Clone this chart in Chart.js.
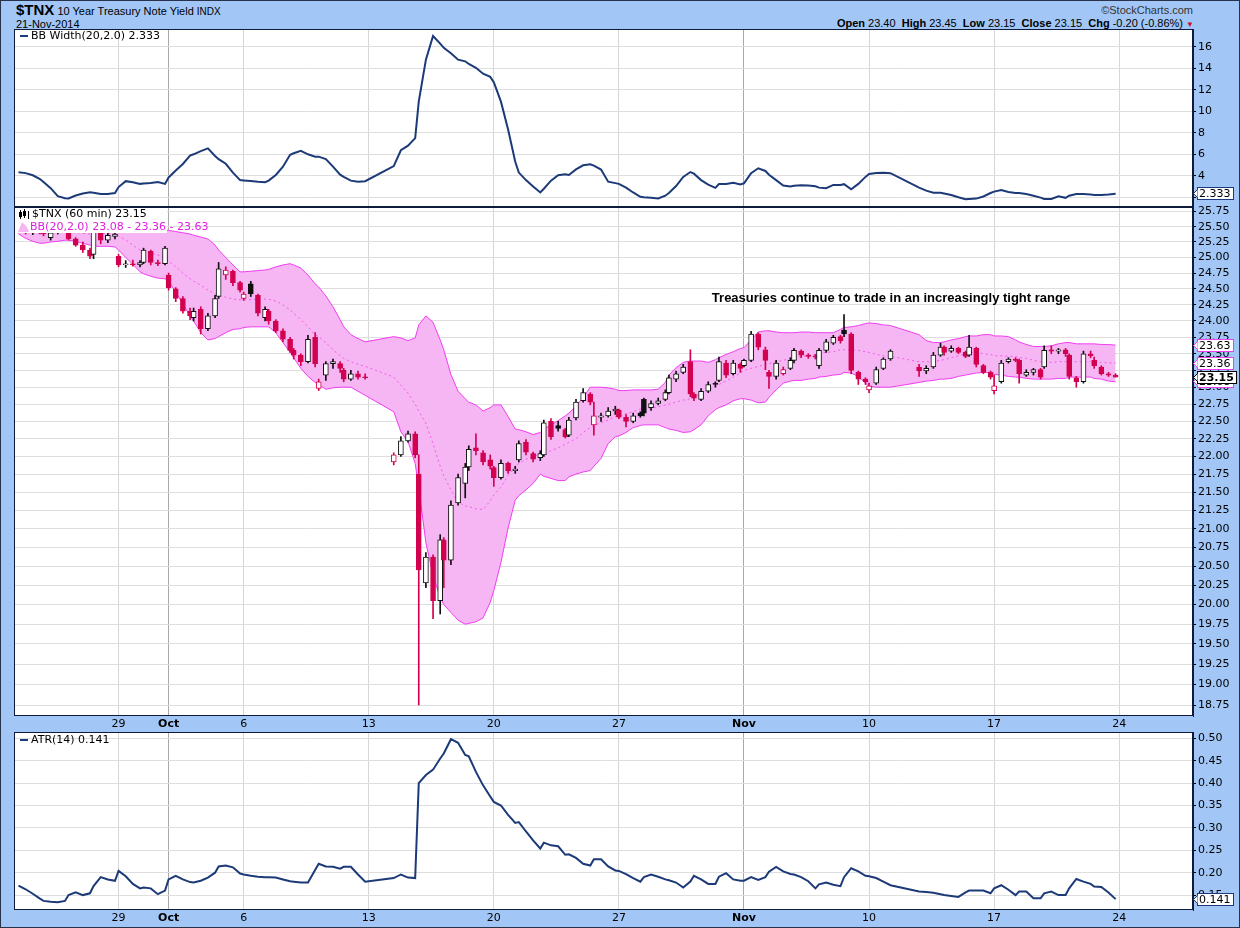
<!DOCTYPE html>
<html>
<head>
<meta charset="utf-8">
<title>$TNX 10 Year Treasury Note Yield</title>
<script src="https://cdn.jsdelivr.net/npm/chart.js@4.4.1/dist/chart.umd.min.js"></script>
<style>
  html, body { margin: 0; padding: 0; }
  body { width: 1240px; height: 928px; position: relative; overflow: hidden; background: #a2c7f6; font-family: "Liberation Sans", Arial, sans-serif; color: #000; }
  #outline { position: absolute; left: 0; top: 0; width: 1240px; height: 928px; box-sizing: border-box; border: 1px solid #28324a; pointer-events: none; z-index: 5; }
  .txt { position: absolute; white-space: nowrap; font-size: 11px; line-height: 13px; }
  canvas { position: absolute; }
</style>
</head>
<body>
<div id="outline"></div>
<div class="txt" style="left:16px;top:2px;line-height:16px;"><span style="font-size:15px;font-weight:bold;">$TNX</span> 10 Year Treasury Note Yield <span style="font-size:10px;">INDX</span></div>
<div class="txt" style="left:16px;top:18px;">21-Nov-2014</div>
<div class="txt" style="right:47px;top:4px;color:#333;">&copy;StockCharts.com</div>
<div class="txt" style="right:57px;top:17px;"><b>Open</b> 23.40&nbsp; <b>High</b> 23.45&nbsp; <b>Low</b> 23.15&nbsp; <b>Close</b> 23.15&nbsp; <b>Chg</b> -0.20 (-0.86%)</div>
<div class="txt" style="left:1186px;top:18px;font-size:8px;color:#c8102e;">&#9660;</div>
<div class="txt" style="left:591px;top:290px;width:600px;text-align:center;font-size:13px;line-height:15px;font-weight:bold;z-index:3;">Treasuries continue to trade in an increasingly tight range</div>

<canvas id="bbwChart" width="1226" height="178" style="left:14px;top:29px;"></canvas>
<canvas id="priceChart" width="1226" height="532" style="left:14px;top:200px;"></canvas>
<canvas id="atrChart" width="1226" height="196" style="left:14px;top:728px;"></canvas>

<script>
// trading sessions, 0 = Mon 29 Sep (13 Oct and 11 Nov had no bars)
const tradingDays = [-4, -3, -2, -1, 0, 1, 2, 3, 4, 5, 6, 7, 8, 9,
  11, 12, 13, 14, 15, 16, 17, 18, 19, 20, 21, 22, 23, 24, 25, 26, 27, 28, 29, 30,
  32, 33, 34, 35, 36, 37, 38, 39];
const barsPerDay = 4;

const dateTickValues = [0, 2, 5, 10, 15, 20, 25, 30, 35, 40];
const dateTickLabels = ['29', 'Oct', '6', '13', '20', '27', 'Nov', '10', '17', '24'];
const monthTicks = [2, 25];

const priceTicks = [18.75, 19.00, 19.25, 19.50, 19.75, 20.00, 20.25, 20.50, 20.75, 21.00,
  21.25, 21.50, 21.75, 22.00, 22.25, 22.50, 22.75, 23.00, 23.25, 23.50, 23.75, 24.00,
  24.25, 24.50, 24.75, 25.00, 25.25, 25.50, 25.75];
const bbwTicks = [2, 4, 6, 8, 10, 12, 14, 16];
const atrTicks = [0.15, 0.20, 0.25, 0.30, 0.35, 0.40, 0.45, 0.50];

// 4 bars per session, one row per session
const opens = [
  25.45, 25.42, 25.40, 25.43,  25.40, 25.32, 25.40, 25.45,  25.42, 25.30, 25.20, 25.12,  25.05, 25.48, 25.28, 25.34,
  25.02, 24.88, 24.90, 24.88,  24.92, 25.10, 24.92, 24.90,  24.72, 24.50, 24.35, 24.15,  24.05, 24.18, 23.88, 24.08,
  24.38, 24.72, 24.78, 24.60,  24.35, 24.58, 24.40, 24.05,  24.15, 24.00, 23.85, 23.72,  23.55, 23.48, 23.38, 23.75,
  22.98, 23.18, 23.35, 23.35,  23.25, 23.12, 23.20, 23.15,
  21.92, 22.02, 22.22, 22.32,  21.75, 20.28, 20.62, 20.05,  20.85, 20.58, 21.35, 21.62,  21.85, 22.12, 22.05, 21.95,
  21.84, 21.70, 21.90, 21.80,  21.95, 22.20, 22.04, 21.98,  22.02, 22.50, 22.44, 22.38,  22.30, 22.55, 22.80, 22.90,
  22.45, 22.56, 22.58, 22.65,  22.66, 22.56, 22.50, 22.62,  22.82, 22.70, 22.76, 22.82,  22.92, 23.12, 23.22, 23.38,
  22.90, 22.82, 22.94, 23.06,  23.10, 23.36, 23.20, 23.34,  23.32, 23.40, 23.80, 23.56,  23.22, 23.16, 23.20, 23.28,
  23.40, 23.54, 23.48, 23.47,  23.32, 23.55, 23.66, 23.76,  23.86, 23.80, 23.22, 23.12,  22.96, 23.06, 23.28, 23.42,
  23.30, 23.24, 23.30, 23.48,  23.60, 23.54, 23.58, 23.52,  23.48, 23.58, 23.32, 23.22,  22.95, 23.08, 23.38, 23.42,
  23.40, 23.18, 23.22, 23.26,  23.30, 23.56, 23.54, 23.56,  23.48, 23.14, 23.08, 23.50,  23.40, 23.30, 23.20, 23.18
];
const highs = [
  25.50, 25.46, 25.45, 25.47,  25.44, 25.42, 25.48, 25.50,  25.45, 25.32, 25.25, 25.15,  25.58, 25.50, 25.40, 25.42,
  25.05, 24.95, 24.96, 24.95,  25.15, 25.12, 24.96, 25.18,  24.75, 24.52, 24.38, 24.20,  24.20, 24.22, 24.12, 24.40,
  24.92, 24.85, 24.80, 24.62,  24.45, 24.62, 24.42, 24.22,  24.18, 24.02, 23.88, 23.75,  23.58, 23.50, 23.78, 23.82,
  23.12, 23.38, 23.42, 23.38,  23.28, 23.25, 23.24, 23.20,
  22.05, 22.28, 22.36, 22.35,  22.02, 20.68, 20.65, 20.92,  20.88, 21.38, 21.75, 21.90,  22.15, 22.32, 22.08, 22.02,
  21.86, 21.95, 21.92, 21.86,  22.22, 22.24, 22.06, 22.08,  22.52, 22.54, 22.50, 22.40,  22.56, 22.82, 22.98, 22.92,
  22.78, 22.62, 22.70, 22.72,  22.68, 22.60, 22.62, 22.64,  22.84, 22.80, 22.84, 22.96,  23.18, 23.24, 23.34, 23.56,
  22.92, 22.98, 23.08, 23.08,  23.45, 23.40, 23.40, 23.36,  23.42, 23.84, 23.82, 23.60,  23.25, 23.40, 23.30, 23.44,
  23.58, 23.56, 23.50, 23.49,  23.58, 23.72, 23.78, 23.78,  24.10, 23.82, 23.24, 23.14,  23.06, 23.30, 23.44, 23.56,
  23.34, 23.32, 23.52, 23.66,  23.62, 23.62, 23.60, 23.54,  23.78, 23.60, 23.34, 23.24,  23.18, 23.40, 23.44, 23.44,
  23.42, 23.26, 23.28, 23.28,  23.62, 23.62, 23.58, 23.58,  23.50, 23.16, 23.54, 23.54,  23.45, 23.32, 23.22, 23.20
];
const lows = [
  25.40, 25.38, 25.37, 25.38,  25.35, 25.28, 25.38, 25.40,  25.28, 25.18, 25.08, 24.98,  24.98, 25.22, 25.24, 25.30,
  24.85, 24.84, 24.86, 24.85,  24.90, 24.88, 24.87, 24.88,  24.48, 24.30, 24.12, 24.02,  24.00, 23.80, 23.85, 24.05,
  24.35, 24.65, 24.55, 24.45,  24.32, 24.38, 24.08, 24.00,  23.95, 23.82, 23.68, 23.52,  23.42, 23.32, 23.36, 23.30,
  22.95, 23.10, 23.28, 23.22,  23.08, 23.10, 23.12, 23.12,
  21.88, 22.00, 22.20, 21.98,  18.75, 20.22, 19.82, 19.88,  20.22, 20.52, 21.32, 21.42,  21.80, 22.02, 21.88, 21.82,
  21.58, 21.68, 21.76, 21.76,  21.92, 22.02, 21.92, 21.94,  22.00, 22.24, 22.36, 22.26,  22.28, 22.52, 22.78, 22.74,
  22.30, 22.50, 22.56, 22.60,  22.54, 22.42, 22.48, 22.56,  22.58, 22.66, 22.74, 22.80,  22.90, 23.08, 23.20, 22.86,
  22.80, 22.80, 22.92, 23.00,  23.08, 23.14, 23.18, 23.22,  23.30, 23.38, 23.56, 23.26,  22.98, 23.12, 23.18, 23.26,
  23.36, 23.44, 23.43, 23.42,  23.28, 23.52, 23.64, 23.66,  23.76, 23.20, 23.04, 23.04,  22.92, 23.04, 23.26, 23.40,
  23.16, 23.20, 23.28, 23.46,  23.48, 23.52, 23.50, 23.44,  23.46, 23.30, 23.20, 23.12,  22.90, 23.06, 23.36, 23.38,
  23.06, 23.16, 23.18, 23.12,  23.28, 23.50, 23.50, 23.46,  23.12, 23.00, 23.06, 23.44,  23.28, 23.18, 23.16, 23.15
];
const closes = [
  25.42, 25.40, 25.43, 25.40,  25.38, 25.40, 25.45, 25.42,  25.30, 25.20, 25.12, 25.02,  25.50, 25.28, 25.36, 25.38,
  24.88, 24.90, 24.88, 24.92,  25.12, 24.92, 24.90, 25.15,  24.52, 24.35, 24.15, 24.08,  24.15, 23.88, 24.08, 24.35,
  24.82, 24.80, 24.60, 24.48,  24.42, 24.42, 24.12, 24.18,  24.00, 23.85, 23.72, 23.55,  23.48, 23.38, 23.72, 23.35,
  23.08, 23.35, 23.38, 23.28,  23.12, 23.20, 23.15, 23.14,
  22.02, 22.22, 22.32, 22.02,  20.45, 20.62, 20.05, 20.85,  20.58, 21.32, 21.70, 21.85,  22.10, 22.08, 21.92, 21.86,
  21.70, 21.90, 21.80, 21.82,  22.18, 22.06, 21.96, 22.04,  22.48, 22.28, 22.40, 22.28,  22.52, 22.78, 22.92, 22.78,
  22.58, 22.58, 22.65, 22.68,  22.56, 22.50, 22.58, 22.58,  22.62, 22.76, 22.80, 22.92,  23.14, 23.20, 23.30, 22.90,
  22.84, 22.94, 23.04, 23.04,  23.38, 23.18, 23.36, 23.28,  23.40, 23.80, 23.60, 23.40,  23.16, 23.36, 23.26, 23.40,
  23.55, 23.48, 23.46, 23.45,  23.55, 23.68, 23.75, 23.70,  23.80, 23.25, 23.12, 23.08,  23.02, 23.26, 23.42, 23.54,
  23.24, 23.28, 23.48, 23.60,  23.52, 23.58, 23.52, 23.46,  23.60, 23.34, 23.22, 23.15,  23.02, 23.36, 23.42, 23.40,
  23.20, 23.22, 23.26, 23.15,  23.55, 23.54, 23.56, 23.50,  23.16, 23.08, 23.50, 23.47,  23.32, 23.20, 23.18, 23.15
];

// Bollinger Bands (20,2.0)
const bbUpper = [
  25.52, 25.53, 25.54, 25.54,  25.55, 25.55, 25.56, 25.56,  25.56, 25.56, 25.55, 25.55,  25.60, 25.60, 25.60, 25.60,
  25.58, 25.56, 25.52, 25.50,  25.48, 25.47, 25.46, 25.45,  25.44, 25.42, 25.40, 25.38,  25.36, 25.33, 25.30, 25.20,
  25.12, 25.00, 24.88, 24.77,  24.77, 24.78, 24.79, 24.80,  24.81, 24.85, 24.88, 24.90,  24.88, 24.83, 24.72, 24.58,
  24.53, 24.39, 24.22, 24.02,  23.91, 23.79, 23.73, 23.68,
  23.76, 23.74, 23.70, 23.74,  23.94, 24.08, 23.98, 23.71,  23.56, 23.19, 22.94, 22.83,  22.78, 22.74, 22.65, 22.70,
  22.74, 22.74, 22.57, 22.39,  22.38, 22.35, 22.31, 22.34,  22.39, 22.45, 22.51, 22.58,  22.62, 22.72, 22.85, 23.00,
  23.00, 23.00, 22.99, 22.97,  22.95, 22.95, 22.96, 22.96,  22.96, 22.96, 22.97, 23.07,  23.18, 23.29, 23.37, 23.39,
  23.39, 23.39, 23.37, 23.41,  23.44, 23.49, 23.53, 23.58,  23.59, 23.71, 23.83, 23.85,  23.85, 23.83, 23.82, 23.82,
  23.82, 23.83, 23.83, 23.82,  23.82, 23.82, 23.82, 23.87,  23.90, 23.91, 23.93, 23.96,  23.97, 23.96, 23.94, 23.93,
  23.79, 23.70, 23.67, 23.67,  23.68, 23.71, 23.73, 23.76,  23.77, 23.77, 23.79, 23.79,  23.77, 23.77, 23.76, 23.71,
  23.68, 23.64, 23.61, 23.61,  23.61, 23.62, 23.65, 23.67,  23.67, 23.65, 23.65, 23.65,  23.65, 23.64, 23.64, 23.63
];
const bbMiddle = [
  25.45, 25.42, 25.40, 25.39,  25.39, 25.40, 25.41, 25.42,  25.42, 25.41, 25.39, 25.38,  25.39, 25.39, 25.39, 25.38,
  25.35, 25.28, 25.20, 25.12,  25.10, 25.07, 25.04, 25.00,  24.94, 24.85, 24.75, 24.66,  24.62, 24.56, 24.48, 24.42,
  24.40, 24.37, 24.34, 24.33,  24.33, 24.33, 24.34, 24.34,  24.34, 24.31, 24.25, 24.17,  24.12, 24.02, 23.91, 23.79,
  23.76, 23.67, 23.56, 23.47,  23.43, 23.38, 23.34, 23.31,
  23.15, 23.03, 22.91, 22.75,  22.65, 22.47, 22.18, 21.86,  21.73, 21.53, 21.36, 21.31,  21.30, 21.27, 21.26, 21.38,
  21.46, 21.57, 21.73, 21.86,  21.90, 21.96, 22.00, 22.03,  22.03, 22.08, 22.12, 22.17,  22.20, 22.25, 22.34, 22.41,
  22.44, 22.48, 22.52, 22.57,  22.58, 22.61, 22.64, 22.68,  22.68, 22.70, 22.71, 22.74,  22.75, 22.78, 22.81, 22.83,
  22.85, 22.91, 22.96, 23.01,  23.04, 23.09, 23.15, 23.21,  23.25, 23.28, 23.31, 23.34,  23.35, 23.38, 23.40, 23.43,
  23.44, 23.46, 23.47, 23.49,  23.50, 23.52, 23.53, 23.56,  23.56, 23.56, 23.55, 23.53,  23.52, 23.49, 23.47, 23.46,
  23.38, 23.38, 23.38, 23.40,  23.41, 23.44, 23.47, 23.50,  23.52, 23.52, 23.50, 23.49,  23.47, 23.47, 23.46, 23.46,
  23.44, 23.43, 23.40, 23.38,  23.37, 23.37, 23.38, 23.38,  23.38, 23.38, 23.38, 23.38,  23.37, 23.37, 23.36, 23.36
];
const bbLower = [
  25.38, 25.31, 25.26, 25.23,  25.23, 25.25, 25.26, 25.28,  25.28, 25.26, 25.23, 25.20,  25.18, 25.18, 25.18, 25.17,
  25.12, 25.00, 24.89, 24.77,  24.74, 24.70, 24.67, 24.66,  24.62, 24.45, 24.26, 24.08,  24.00, 23.82, 23.71, 23.73,
  23.76, 23.82, 23.87, 23.88,  23.90, 23.91, 23.91, 23.91,  23.91, 23.82, 23.67, 23.52,  23.44, 23.28, 23.16, 23.07,
  23.04, 22.97, 22.99, 23.00,  23.00, 23.00, 22.94, 22.88,
  22.64, 22.35, 22.21, 21.90,  21.56, 20.81, 20.38, 20.09,  20.00, 19.90, 19.80, 19.75,  19.76, 19.78, 19.83, 20.03,
  20.18, 20.55, 21.01, 21.39,  21.45, 21.53, 21.62, 21.75,  21.72, 21.69, 21.66, 21.66,  21.71, 21.75, 21.78, 21.80,
  21.86, 21.97, 22.18, 22.28,  22.29, 22.34, 22.41, 22.44,  22.45, 22.45, 22.45, 22.41,  22.39, 22.37, 22.34, 22.35,
  22.38, 22.45, 22.58, 22.67,  22.70, 22.74, 22.80, 22.83,  22.83, 22.81, 22.77, 22.78,  22.85, 22.96, 23.06, 23.09,
  23.10, 23.10, 23.12, 23.13,  23.15, 23.16, 23.18, 23.19,  23.22, 23.21, 23.16, 23.06,  23.01, 23.00, 23.00, 23.00,
  23.07, 23.09, 23.10, 23.12,  23.12, 23.13, 23.16, 23.18,  23.19, 23.21, 23.22, 23.22,  23.19, 23.18, 23.16, 23.15,
  23.15, 23.13, 23.12, 23.12,  23.12, 23.12, 23.13, 23.13,  23.15, 23.15, 23.15, 23.15,  23.13, 23.12, 23.09, 23.08
];

// BB Width(20,2.0)
const bbWidth = [
  4.32, 4.25, 4.05, 3.70,  3.42, 2.85, 2.10, 1.92,  1.90, 2.17, 2.36, 2.46,  2.42, 2.31, 2.31, 2.40,
  2.95, 3.50, 3.40, 3.25,  3.28, 3.32, 3.42, 3.25,  3.85, 4.50, 5.10, 5.88,  6.00, 6.30, 6.55, 5.85,
  5.55, 5.12, 4.30, 3.60,  3.57, 3.52, 3.45, 3.40,  3.55, 4.08, 4.85, 5.95,  6.10, 6.32, 6.00, 5.78,
  5.78, 5.55, 4.85, 4.10,  3.90, 3.55, 3.44, 3.50,
  4.90, 6.38, 6.80, 7.50,  10.9, 14.8, 17.0, 16.3,  15.9, 15.4, 14.8, 14.65,  14.4, 14.05, 13.5, 13.2,
  12.7, 10.9, 8.30, 5.30,  4.30, 3.60, 3.00, 2.45,  2.80, 3.55, 4.05, 4.15,  4.08, 4.60, 4.98, 5.07,
  4.95, 4.58, 3.45, 3.32,  3.25, 2.90, 2.45, 2.05,  2.00, 1.95, 1.90, 2.15,  2.40, 3.05, 3.90, 4.35,
  4.20, 3.60, 3.18, 2.88,  3.24, 3.24, 3.35, 3.20,  3.30, 4.25, 4.70, 4.45,  4.10, 3.60, 3.10, 3.00,
  3.08, 3.13, 3.10, 3.03,  2.90, 2.84, 3.15, 3.15,  3.22, 2.75, 3.25, 3.90,  4.17, 4.25, 4.28, 4.24,
  2.90, 2.62, 2.43, 2.43,  2.36, 2.22, 2.00, 1.82,  1.84, 1.88, 2.08, 2.40,  2.53, 2.68, 2.50, 2.41,
  2.39, 2.30, 2.15, 1.97,  1.85, 1.85, 2.10, 1.95,  2.15, 2.31, 2.31, 2.25,  2.21, 2.21, 2.25, 2.333
];

// ATR(14)
const atr14 = [
  0.171, 0.163, 0.153, 0.142,  0.137, 0.135, 0.134, 0.137,  0.150, 0.156, 0.150, 0.154,  0.170, 0.190, 0.185, 0.182,
  0.204, 0.192, 0.175, 0.165,  0.167, 0.165, 0.152, 0.160,  0.185, 0.193, 0.185, 0.179,  0.178, 0.182, 0.189, 0.200,
  0.214, 0.216, 0.212, 0.198,  0.196, 0.193, 0.191, 0.190,  0.190, 0.189, 0.185, 0.181,  0.180, 0.178, 0.178, 0.206,
  0.220, 0.214, 0.213, 0.209,  0.213, 0.213, 0.196, 0.180,
  0.188, 0.196, 0.189, 0.188,  0.400, 0.418, 0.430, 0.455,  0.466, 0.498, 0.490, 0.463,  0.460, 0.425, 0.395, 0.370,
  0.358, 0.350, 0.329, 0.311,  0.313, 0.292, 0.272, 0.254,  0.267, 0.261, 0.259, 0.240,  0.241, 0.233, 0.220, 0.216,
  0.230, 0.230, 0.214, 0.205,  0.204, 0.197, 0.188, 0.180,  0.190, 0.196, 0.191, 0.185,  0.183, 0.178, 0.167, 0.180,
  0.193, 0.185, 0.175, 0.175,  0.191, 0.199, 0.185, 0.182,  0.182, 0.190, 0.184, 0.190,  0.202, 0.213, 0.203, 0.197,
  0.196, 0.190, 0.181, 0.165,  0.174, 0.178, 0.173, 0.170,  0.190, 0.210, 0.203, 0.193,  0.192, 0.188, 0.180, 0.172,
  0.158, 0.157, 0.155, 0.152,  0.150, 0.148, 0.146, 0.156,  0.160, 0.160, 0.160, 0.154,  0.165, 0.172, 0.162, 0.150,
  0.158, 0.158, 0.143, 0.143,  0.154, 0.158, 0.150, 0.150,  0.165, 0.186, 0.180, 0.175,  0.169, 0.168, 0.156, 0.141
];

const FONT = '"DejaVu Sans", Verdana, sans-serif';
const FRAME = '#0e1b3d';
const NAVY = '#1c3a78';
const RED = '#d3004f';
const BLACK = '#101010';
const MAGENTA = '#f03ef0';
const PINK = '#f6b5f3';
const X_MIN = -4.18, X_MAX = 42.95;

Chart.defaults.font.family = FONT;
Chart.defaults.font.size = 11;
Chart.defaults.color = '#000';
Chart.defaults.animation = false;

// bar positions inside each session
const xs = [];
tradingDays.forEach(d => {
  for (let k = 0; k < barsPerDay; k++) xs.push(d + k * 2 / 7);
});
const last = xs.length - 1;

const candleColor = closes.map((c, i) => (i === 0 || c >= closes[i - 1]) ? BLACK : RED);
const bodyFill = closes.map((c, i) => c >= opens[i] ? '#ffffff' : candleColor[i]);

const series = arr => xs.map((x, i) => ({ x, y: arr[i] }));

// shared plugins
const paper = {
  id: 'paper',
  beforeDraw(chart) {
    const a = chart.chartArea, ctx = chart.ctx;
    ctx.save();
    ctx.fillStyle = '#ffffff';
    ctx.fillRect(a.left, a.top, a.right - a.left, a.bottom - a.top);
    ctx.restore();
  }
};
const frame = {
  id: 'frame',
  afterDraw(chart) {
    const a = chart.chartArea, ctx = chart.ctx;
    ctx.save();
    ctx.strokeStyle = FRAME;
    ctx.lineWidth = 1;
    ctx.strokeRect(a.left + 0.5, a.top + 0.5, a.right - a.left - 1, a.bottom - a.top - 1);
    ctx.restore();
  }
};

function drawTag(ctx, x, y, text, border, bold) {
  ctx.save();
  ctx.font = (bold ? 'bold ' : '') + '11px ' + FONT;
  const w = Math.ceil(ctx.measureText(text).width) + 4;
  const h = 13;
  const top = Math.round(y - h / 2);
  ctx.fillStyle = '#ffffff';
  ctx.fillRect(x, top, w, h);
  ctx.strokeStyle = border;
  ctx.lineWidth = 1;
  ctx.strokeRect(x + 0.5, top + 0.5, w, h - 1);
  ctx.beginPath();
  ctx.moveTo(x + 0.5, top + 2.5);
  ctx.lineTo(x - 3.5, top + h / 2);
  ctx.lineTo(x + 0.5, top + h - 2.5);
  ctx.fill();
  ctx.stroke();
  ctx.fillStyle = '#000';
  ctx.textBaseline = 'middle';
  ctx.fillText(text, x + 2, top + h / 2 + 0.5);
  ctx.restore();
}

function dateAxis(height) {
  return {
    type: 'linear', min: X_MIN, max: X_MAX, offset: false, bounds: 'data',
    afterBuildTicks: s => { s.ticks = dateTickValues.map(v => ({ value: v })); },
    afterFit: s => { s.height = height; s.paddingLeft = 0; s.paddingRight = 0; },
    ticks: {
      display: height > 0, autoSkip: false, maxRotation: 0, padding: 2,
      callback: v => dateTickLabels[dateTickValues.indexOf(v)],
      font: ctx => ({ family: FONT, size: 11, weight: ctx.tick && monthTicks.includes(ctx.tick.value) ? 'bold' : 'normal' })
    },
    grid: {
      offset: false,
      drawTicks: false,
      color: ctx => ctx.tick && monthTicks.includes(ctx.tick.value) ? '#a9a9a9' : '#d6d6d6'
    },
    border: { display: false }
  };
}

function valueAxis(type, min, max, tickList, fmt) {
  return {
    type, position: 'right', min, max, bounds: 'data',
    afterBuildTicks: s => { s.ticks = tickList.map(v => ({ value: v })); },
    afterFit: s => { s.width = 47; s.paddingTop = 0; s.paddingBottom = 0; },
    ticks: { autoSkip: false, padding: 2, callback: fmt },
    grid: { offset: false, color: '#dedede', tickColor: '#000', tickLength: 3 },
    border: { display: true, color: FRAME }
  };
}

// ---- BB Width panel ----
new Chart(document.getElementById('bbwChart'), {
  type: 'line',
  data: {
    datasets: [{
      data: series(bbWidth), borderColor: NAVY, borderWidth: 2,
      pointRadius: 0, tension: 0, fill: false
    }]
  },
  options: {
    responsive: false, events: [],
    layout: { padding: 0 },
    plugins: { legend: { display: false }, tooltip: { enabled: false } },
    scales: {
      x: dateAxis(0),
      y: valueAxis('linear', 1.098, 17.656, bbwTicks, v => String(v))
    }
  },
  plugins: [paper, frame, {
    id: 'bbwText',
    afterDraw(chart) {
      const { ctx, chartArea: a } = chart;
      ctx.save();
      ctx.fillStyle = NAVY;
      ctx.fillRect(a.left + 6, a.top + 6, 8, 2);
      ctx.fillStyle = '#000';
      ctx.font = '11px ' + FONT;
      ctx.textBaseline = 'middle';
      ctx.fillText('BB Width(20,2.0) ' + bbWidth[last].toFixed(3), a.left + 17, a.top + 7.5);
      ctx.restore();
      drawTag(ctx, a.right + 4, chart.scales.y.getPixelForValue(bbWidth[last]), bbWidth[last].toFixed(3), NAVY, false);
    }
  }]
});

// ---- Price panel ----
new Chart(document.getElementById('priceChart'), {
  type: 'bar',
  data: {
    datasets: [
      { type: 'line', data: series(bbUpper), borderColor: MAGENTA, borderWidth: 1, pointRadius: 0, tension: 0, fill: false, order: 10 },
      { type: 'line', data: series(bbLower), borderColor: MAGENTA, borderWidth: 1, pointRadius: 0, tension: 0, fill: '-1', backgroundColor: PINK, order: 9 },
      { type: 'line', data: series(bbMiddle), borderColor: '#f25cea', borderWidth: 1, borderDash: [2, 3], pointRadius: 0, tension: 0, fill: false, order: 8 },
      {
        type: 'bar', data: xs.map((x, i) => ({ x, y: [lows[i], highs[i]] })),
        backgroundColor: candleColor, borderWidth: 0, barThickness: 1, grouped: false, order: 2
      },
      {
        type: 'bar', data: xs.map((x, i) => ({ x, y: [opens[i], closes[i]] })),
        backgroundColor: bodyFill, borderColor: candleColor, borderWidth: 1, borderSkipped: false,
        barThickness: 5, minBarLength: 1, grouped: false, order: 1
      }
    ]
  },
  options: {
    responsive: false, events: [],
    layout: { padding: { top: 7 } },
    plugins: { legend: { display: false }, tooltip: { enabled: false }, filler: { drawTime: 'beforeDatasetsDraw' } },
    scales: {
      x: dateAxis(16),
      y: valueAxis('logarithmic', 18.618, 25.8245, priceTicks, v => Number(v).toFixed(2))
    }
  },
  plugins: [paper, frame, {
    id: 'priceText',
    afterDraw(chart) {
      const { ctx, chartArea: a } = chart;
      const y = chart.scales.y;
      ctx.save();
      ctx.fillStyle = '#ffffff';
      ctx.fillRect(a.left + 1, a.top + 1, 152, 25);
      // candle icon
      ctx.fillStyle = '#000';
      ctx.fillRect(a.left + 6, a.top + 3, 1, 9);
      ctx.fillRect(a.left + 5, a.top + 5, 3, 5);
      ctx.fillRect(a.left + 10, a.top + 2, 1, 9);
      ctx.strokeStyle = '#000';
      ctx.strokeRect(a.left + 9.5, a.top + 4.5, 2, 4);
      ctx.fillRect(a.left + 14, a.top + 4, 1, 8);
      ctx.font = '11px ' + FONT;
      ctx.textBaseline = 'middle';
      ctx.fillText('$TNX (60 min) ' + closes[last].toFixed(2), a.left + 18, a.top + 7.5);
      // band icon
      ctx.fillStyle = PINK;
      ctx.beginPath();
      ctx.moveTo(a.left + 4, a.top + 25);
      ctx.lineTo(a.left + 8, a.top + 15);
      ctx.lineTo(a.left + 13, a.top + 20);
      ctx.lineTo(a.left + 15, a.top + 25);
      ctx.fill();
      ctx.fillStyle = '#e020e0';
      ctx.fillText('BB(20,2.0) ' + bbLower[last].toFixed(2) + ' - ' + bbMiddle[last].toFixed(2) + ' - ' + bbUpper[last].toFixed(2), a.left + 16, a.top + 20.5);
      ctx.restore();
      const tx = a.right + 4;
      drawTag(ctx, tx, y.getPixelForValue(bbLower[last]), bbLower[last].toFixed(2), MAGENTA, false);
      drawTag(ctx, tx, y.getPixelForValue(bbUpper[last]), bbUpper[last].toFixed(2), MAGENTA, false);
      drawTag(ctx, tx, y.getPixelForValue(bbMiddle[last]), bbMiddle[last].toFixed(2), MAGENTA, false);
      drawTag(ctx, tx, y.getPixelForValue(closes[last]), closes[last].toFixed(2), '#000', true);
    }
  }]
});

// ---- ATR panel ----
new Chart(document.getElementById('atrChart'), {
  type: 'line',
  data: {
    datasets: [{
      data: series(atr14), borderColor: NAVY, borderWidth: 2,
      pointRadius: 0, tension: 0, fill: false
    }]
  },
  options: {
    responsive: false, events: [],
    layout: { padding: { top: 4 } },
    plugins: { legend: { display: false }, tooltip: { enabled: false } },
    scales: {
      x: dateAxis(14),
      y: valueAxis('linear', 0.1167, 0.5141, atrTicks, v => Number(v).toFixed(2))
    }
  },
  plugins: [paper, frame, {
    id: 'atrText',
    afterDraw(chart) {
      const { ctx, chartArea: a } = chart;
      ctx.save();
      ctx.fillStyle = NAVY;
      ctx.fillRect(a.left + 6, a.top + 7, 8, 2);
      ctx.fillStyle = '#000';
      ctx.font = '11px ' + FONT;
      ctx.textBaseline = 'middle';
      ctx.fillText('ATR(14) ' + atr14[last].toFixed(3), a.left + 17, a.top + 8.5);
      ctx.restore();
      drawTag(ctx, a.right + 4, chart.scales.y.getPixelForValue(atr14[last]), atr14[last].toFixed(3), NAVY, false);
    }
  }]
});
</script>
</body>
</html>
